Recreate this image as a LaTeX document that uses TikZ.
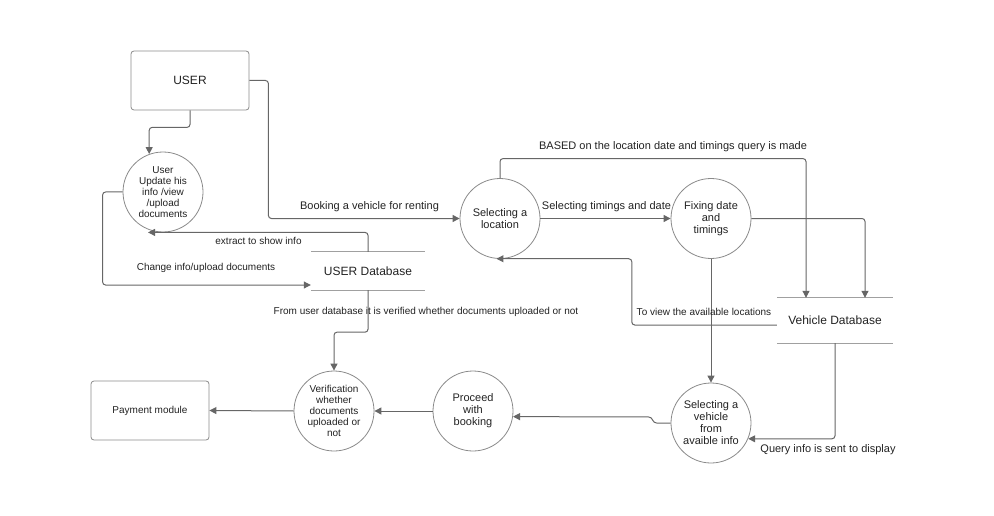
\documentclass[tikz,border=0pt]{standalone}
\usepackage{fontspec}
\setmainfont{Liberation Sans}
\usetikzlibrary{arrows.meta,calc}
\definecolor{ln}{HTML}{666666}
\definecolor{ol}{HTML}{8A8A8A}
\definecolor{dbl}{HTML}{A0A0A0}
\definecolor{tx}{HTML}{222222}
\tikzset{
 box/.style={draw=ol, rounded corners=3pt, minimum width=118pt, minimum height=59pt, line width=0.8pt, text=tx},
 proc/.style={circle, draw=ol, minimum size=80pt, inner sep=0pt, align=center, text=tx, line width=0.8pt},
 store/.style={minimum width=114pt, inner sep=0pt, text=tx},
 dbline/.style={draw=dbl, line width=1pt},
 flow/.style={draw=ln, line width=1pt, rounded corners=3pt, -{Triangle[length=7pt,width=7pt]}},
 lab/.style={text=tx, inner sep=1pt},
 sm/.style={font=\fontsize{10}{11}\selectfont},
 md/.style={font=\fontsize{11}{12}\selectfont},
 lg/.style={font=\fontsize{12}{14}\selectfont},
}
\begin{document}
\begin{tikzpicture}[x=1pt,y=-1pt]
\useasboundingbox (0,0) rectangle (994,516);
% nodes
\node[box,lg] (user) at (190,80.5) {USER};
\node[proc,sm] (uc) at (163,192) {User\\Update his\\info /view\\/upload\\documents};
\node[proc,md] (sl) at (500,218.5) {Selecting a\\location};
\node[proc,md] (fd) at (711,218.5) {Fixing date\\and\\timings};
\node[proc,md] (sv) at (711,423) {Selecting a\\vehicle\\from\\avaible info};
\node[proc,md] (pr) at (473,411) {Proceed\\with\\booking};
\node[proc,sm] (ver) at (334,411) {Verification\\whether\\documents\\uploaded or\\not};
\node[box,sm] (pay) at (150,410.5) {Payment module};
\node[store,lg,minimum height=38pt] (udb) at (368,271) {USER Database};
\node[store,lg,minimum width=116pt,minimum height=45pt] (vdb) at (835,320.5) {Vehicle Database};
\draw[dbline] (udb.north west) -- (udb.north east) (udb.south west) -- (udb.south east);
\draw[dbline] (vdb.north west) -- (vdb.north east) (vdb.south west) -- (vdb.south east);
% connectors
\draw[flow] (user.south) -- ++(0,17) -| (uc.110);
\draw[flow] (user.east) -- ++(19,0) |- (sl.west);
\draw[flow] (sl.east) -- (fd.west);
\draw[flow] (sl.north) -- ++(0,-19.5) -| ([xshift=-29pt]vdb.north);
\draw[flow] (fd.east) -| ([xshift=30pt]vdb.north);
\draw[flow] ([yshift=-4.5pt]vdb.west) -- ++(-145,0) |- (sl.265);
\draw[flow] (fd.south) -- (sv.north);
\draw[flow] (vdb.south) |- (sv.-23.6);
\draw[flow] (sv.west) -- ++(-17,0) -- ++(-2,-6) -- (pr.-8.6);
\draw[flow] (pr.west) -- (ver.east);
\draw[flow] (ver.west) -- (pay.east);
\draw[flow] (udb.north) |- ([xshift=-15pt]uc.south);
\draw[flow] (uc.west) -- ++(-20,0) |- ([yshift=-14pt]udb.west);
\draw[flow] (udb.south) -- ++(0,42) -| (ver.north);
% labels
\node[lab,md] (lbook) at (369.5,207) {Booking a vehicle for renting};
\node[lab,md] (lsel) at (606.5,206.5) {Selecting timings and date};
\node[lab,md] (lbased) at (673,147) {BASED on the location date and timings query is made};
\node[lab,sm] (lview) at (704,312) {To view the available locations};
\node[lab,md] (lquery) at (828,450) {Query info is sent to display};
\node[lab,sm] (lext) at (258.5,241) {extract to show info};
\node[lab,sm] (lchg) at (206,268) {Change info/upload documents};
\node[lab,sm] (lfrom) at (426,312) {From user database it is verified whether documents uploaded or not};
\end{tikzpicture}
\end{document}
